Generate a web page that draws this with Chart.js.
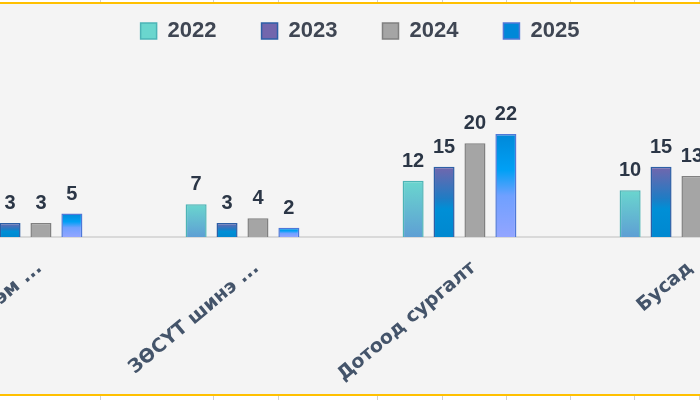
<!DOCTYPE html>
<html>
<head>
<meta charset="utf-8">
<script src="https://cdn.jsdelivr.net/npm/chart.js@4.4.1/dist/chart.umd.min.js"></script>
<style>
    html, body { margin: 0; padding: 0; }
    body {
        width: 700px; height: 400px; overflow: hidden; position: relative;
        background: #f4f4f4;
        font-family: "Liberation Sans", Arial, sans-serif;
    }
    .wrap { position: absolute; left: -83px; top: -25px; width: 886px; height: 420px; }
    .strip { position: absolute; left: 0; width: 700px; background: #fff; z-index: 2; overflow: hidden; }
    .strip.top { top: 0; height: 2px; border-bottom: 2px solid #ffc000; }
    .strip.bottom { top: 394px; height: 6px; border-top: 2px solid #ffc000; }
    .strip i { position: absolute; top: 0; bottom: 0; width: 1px; background: #d0d0d0; }
</style>
</head>
<body>
<div class="wrap"><canvas id="trainingChart"></canvas></div>
<div class="strip top"></div>
<div class="strip bottom"></div>

<script>
// chart data
const categories = ['Гадаад сургалт, сэм ...', 'ЗӨСҮТ шинэ ...', 'Дотоод сургалт', 'Бусад'];
const years = ['2022', '2023', '2024', '2025'];
const values2022 = [4, 7, 12, 10];
const values2023 = [3, 3, 15, 15];
const values2024 = [3, 4, 20, 13];
const values2025 = [5, 2, 22, 12];

// spreadsheet cell edges peeking out above / below the chart
const cellEdges = [100, 213, 278, 377, 442, 506, 570, 634, 699];
document.querySelectorAll(".strip").forEach(strip => {
    cellEdges.forEach(x => {
        const line = document.createElement("i");
        line.style.left = x + "px";
        strip.appendChild(line);
    });
});

const FONT = '"Liberation Sans", Arial, sans-serif';

// vertical gradient over a single bar, from its top down to the zero line
function barFill(stops, fallback) {
    return (c) => {
        const yScale = c.chart.scales.y;
        if (c.raw === undefined || !yScale || !c.chart.chartArea) return fallback;
        const top = yScale.getPixelForValue(c.raw);
        const base = yScale.getPixelForValue(0);
        const g = c.chart.ctx.createLinearGradient(0, top, 0, base);
        stops.forEach(([pos, col]) => g.addColorStop(pos, col));
        return g;
    };
}

// numbers above the bars
const valueLabels = {
    id: 'valueLabels',
    afterDatasetsDraw(chart) {
        const ctx = chart.ctx;
        ctx.save();
        ctx.font = 'bold 20px ' + FONT;
        ctx.fillStyle = '#2b3646';
        ctx.textAlign = 'center';
        ctx.textBaseline = 'alphabetic';
        chart.data.datasets.forEach((ds, i) => {
            chart.getDatasetMeta(i).data.forEach((bar, j) => {
                ctx.fillText(ds.data[j], bar.x, bar.y - 14);
            });
        });
        ctx.restore();
    }
};

const ctx = document.getElementById("trainingChart").getContext("2d");

new Chart(ctx, {
    type: 'bar',
    data: {
        labels: categories,
        datasets: [
            {
                label: years[0],
                data: values2022,
                backgroundColor: barFill([[0, '#6ad6ce'], [1, '#5e9fd4']], '#63bfd0'),
                borderColor: '#4cb4b6',
                borderWidth: 1.5
            },
            {
                label: years[1],
                data: values2023,
                backgroundColor: barFill([[0, '#7266ad'], [0.45, '#1f7cc4'], [0.6, '#008fd6'], [1, '#0088d0']], '#1f7cc4'),
                borderColor: '#2d5fa6',
                borderWidth: 1.5
            },
            {
                label: years[2],
                data: values2024,
                backgroundColor: '#a5a5a5',
                borderColor: '#808080',
                borderWidth: 1.5
            },
            {
                label: years[3],
                data: values2025,
                backgroundColor: barFill([[0, '#0088d8'], [0.35, '#00a0f5'], [0.6, '#6fa0ff'], [1, '#93a5ff']], '#3f9cf5'),
                borderColor: '#4f78d8',
                borderWidth: 1.5
            }
        ]
    },
    options: {
        responsive: true,
        maintainAspectRatio: false,
        animation: false,
        categoryPercentage: 0.57,
        barPercentage: 0.68,
        layout: { padding: 0 },
        plugins: {
            legend: {
                position: 'top',
                labels: {
                    boxWidth: 16,
                    boxHeight: 16,
                    padding: 45,
                    color: '#3f4653',
                    font: { family: FONT, size: 22, weight: 'bold' }
                }
            },
            tooltip: { enabled: false }
        },
        scales: {
            x: {
                grid: { display: false, drawTicks: false },
                border: { color: '#d9d9d9', width: 2 },
                ticks: {
                    color: '#44546a',
                    font: { family: '"DejaVu Sans", ' + FONT, size: 19, weight: 'bold' },
                    minRotation: 40,
                    maxRotation: 40,
                    autoSkip: false,
                    padding: 20,
                    labelOffset: 14
                },
                afterFit: s => {
                    s.height = 158;
                    // rotated labels would otherwise push the plot area inwards
                    s.paddingLeft = 0;
                    s.paddingRight = 0;
                }
            },
            y: {
                position: 'right',
                min: 0,
                max: 39.5,
                grid: { display: false, drawTicks: false },
                border: { display: false },
                ticks: { display: false },
                afterFit: s => { s.width = 18; }
            }
        }
    },
    plugins: [valueLabels]
});
</script>
</body>
</html>
